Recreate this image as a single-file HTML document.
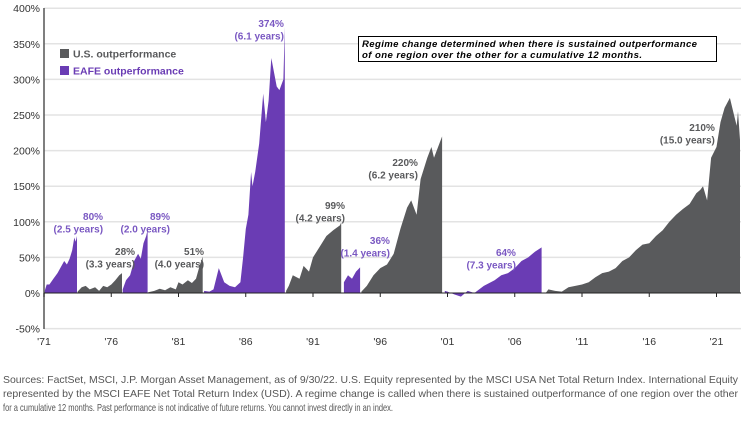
<!DOCTYPE html>
<html><head><meta charset="utf-8">
<style>
body{margin:0;background:#fff;}
svg{display:block;font-family:"Liberation Sans",sans-serif;}
</style></head>
<body>
<svg id="chart" width="751" height="424" viewBox="0 0 751 424">
<g id="grid"></g>
<g id="areas"></g>
<g id="axes"></g>
<g id="labels"></g>
<g>
  <rect x="60" y="49" width="9" height="9" fill="#595a5c"/>
  <text x="73" y="57.5" font-size="10.5" font-weight="bold" fill="#595a5c">U.S. outperformance</text>
  <rect x="60" y="66" width="9" height="9" fill="#6a3cb4"/>
  <text x="73" y="74.5" font-size="10.5" font-weight="bold" fill="#6a3cb4">EAFE outperformance</text>
</g>
<g>
  <rect x="358.5" y="36.5" width="358" height="25" fill="#fff" stroke="#000" stroke-width="1"/>
  <text x="362" y="47" font-size="9.6" font-weight="bold" font-style="italic" fill="#000" textLength="335">Regime change determined when there is sustained outperformance</text>
  <text x="362" y="58" font-size="9.6" font-weight="bold" font-style="italic" fill="#000" textLength="280">of one region over the other for a cumulative 12 months.</text>
</g>
<g font-size="10.5" fill="#555">
  <text x="3" y="383" textLength="735" lengthAdjust="spacingAndGlyphs">Sources: FactSet, MSCI, J.P. Morgan Asset Management, as of 9/30/22. U.S. Equity represented by the MSCI USA Net Total Return Index. International Equity</text>
  <text x="3" y="397" textLength="735" lengthAdjust="spacingAndGlyphs">represented by the MSCI EAFE Net Total Return Index (USD). A regime change is called when there is sustained outperformance of one region over the other</text>
  <text x="3" y="411" textLength="390" lengthAdjust="spacingAndGlyphs">for a cumulative 12 months. Past performance is not indicative of future returns. You cannot invest directly in an index.</text>
</g>
</svg>
<script>
const yTicks=[400,350,300,250,200,150,100,50,0,-50];
const xTickYears=[1971,1976,1981,1986,1991,1996,2001,2006,2011,2016,2021];
const segRegion=["eafe","us","eafe","us","eafe","us","eafe","us","eafe","us"];
const segYears=[
[1971.05,1971.2,1971.4,1971.7,1972,1972.3,1972.5,1972.7,1972.9,1973.1,1973.25,1973.35,1973.45],
[1973.5,1973.8,1974.1,1974.4,1974.8,1975.1,1975.4,1975.7,1976,1976.3,1976.6,1976.8],
[1976.85,1977.1,1977.4,1977.7,1978,1978.2,1978.4,1978.6,1978.7],
[1978.75,1979.2,1979.6,1980,1980.4,1980.8,1981,1981.3,1981.7,1982,1982.3,1982.6,1982.8],
[1982.9,1983.3,1983.6,1984,1984.4,1984.8,1985.2,1985.6,1985.8,1986,1986.2,1986.4,1986.5,1986.7,1987,1987.3,1987.5,1987.7,1987.9,1988.1,1988.3,1988.5,1988.8,1988.9],
[1989,1989.2,1989.5,1990,1990.3,1990.7,1991,1991.5,1992,1992.5,1993,1993.1],
[1993.3,1993.6,1993.9,1994.2,1994.5],
[1994.6,1995,1995.5,1996,1996.5,1997,1997.5,1998,1998.3,1998.7,1999,1999.5,1999.8,2000,2000.4,2000.6],
[2000.8,2001,2001.5,2002,2002.5,2003,2003.7,2004.5,2005,2005.5,2006,2006.5,2007,2007.5,2008],
[2008.3,2008.5,2009,2009.5,2010,2010.5,2011,2011.5,2012,2012.5,2013,2013.5,2014,2014.5,2015,2015.5,2016,2016.5,2017,2017.5,2018,2018.5,2019,2019.5,2019.8,2020,2020.3,2020.6,2021,2021.3,2021.6,2022,2022.3,2022.5,2022.6,2022.75]
];
const segValues=[
[3,12,12,20,28,38,45,40,48,60,78,72,80],
[2,8,10,5,8,3,10,8,12,18,25,28],
[5,18,25,45,55,48,70,80,89],
[1,3,6,4,8,5,15,12,18,14,20,40,51],
[3,2,5,35,15,10,8,15,50,90,110,170,150,170,210,280,240,270,330,310,290,285,300,374],
[3,10,25,20,38,30,50,65,80,88,95,99],
[15,25,20,30,36],
[2,10,25,35,40,55,90,120,130,110,160,190,205,190,210,220],
[3,2,-2,-5,3,0,10,18,25,28,35,45,50,58,64],
[0,5,3,2,8,10,12,15,22,28,30,35,45,50,60,68,70,80,88,100,110,118,125,140,145,150,130,190,205,240,260,274,250,235,255,215]
];
const annText=[["374%","(6.1 years)"],["80%","(2.5 years)"],["28%","(3.3 years)"],["89%","(2.0 years)"],["51%","(4.0 years)"],["99%","(4.2 years)"],["36%","(1.4 years)"],["220%","(6.2 years)"],["64%","(7.3 years)"],["210%","(15.0 years)"]];
const annRegion=["eafe","eafe","us","eafe","us","us","eafe","us","eafe","us"];
const annYear=[1988.84,1975.39,1977.77,1980.37,1982.9,1993.38,1996.72,1998.8,2006.09,2020.88];
const annValue=[373.6,102.5,53.4,102.5,53.4,118,68.8,178.4,52,227.5];

const NS="http://www.w3.org/2000/svg";
const X0=44,PX=13.45,Y0=293,PY=35.6/50;
const xs=y=>X0+(y-1971)*PX;
const ys=v=>Y0-v*PY;
const col={us:"#595a5c",eafe:"#6a3cb4"};
const tcol={us:"#595a5c",eafe:"#7a58c2"};
function mk(tag,attrs,parent){const e=document.createElementNS(NS,tag);for(const k in attrs)e.setAttribute(k,attrs[k]);parent.appendChild(e);return e;}
const grid=document.getElementById('grid'),axes=document.getElementById('axes'),areas=document.getElementById('areas'),labels=document.getElementById('labels');
yTicks.forEach(v=>{
  if(v!==0){const l=mk('line',{x1:X0,x2:741,y1:ys(v),y2:ys(v),stroke:"#e3e3e3","stroke-width":1.5},grid);
  
  }
  const t=mk('text',{x:40,y:ys(v)+4,"text-anchor":"end","font-size":10.5,fill:"#333"},axes);
  t.textContent=v+"%";
  
  
});
annText.forEach((a,i)=>{
  const x=xs(annYear[i]),y=ys(annValue[i]);
  const t1=mk('text',{x:x,y:y,"text-anchor":"end","font-size":10,"font-weight":"bold",fill:tcol[annRegion[i]]},labels);
  t1.textContent=a[0];
  
  
  const t2=mk('text',{x:x,y:y+12.5,"text-anchor":"end","font-size":10,"font-weight":"bold",fill:tcol[annRegion[i]]},labels);
  t2.textContent=a[1];
  
  
});
segYears.forEach((yrs,i)=>{
  let d="M"+xs(yrs[0])+","+Y0;
  yrs.forEach((y,j)=>{d+=" L"+xs(y).toFixed(1)+","+ys(segValues[i][j]).toFixed(1);});
  d+=" L"+xs(yrs[yrs.length-1]).toFixed(1)+","+Y0+"Z";
  const p=mk('path',{d:d,fill:col[segRegion[i]]},areas);
  
  
});
const ya=mk('line',{x1:X0,x2:X0,y1:8,y2:329,stroke:"#555","stroke-width":1.5},axes);


const xa=mk('line',{x1:X0,x2:741,y1:Y0,y2:Y0,stroke:"#222","stroke-width":1},axes);


xTickYears.forEach(y=>{
  const tk=mk('line',{x1:xs(y),x2:xs(y),y1:Y0,y2:Y0+4,stroke:"#222"},axes);
  
  
  const t=mk('text',{x:xs(y),y:345,"text-anchor":"middle","font-size":10.5,fill:"#333"},axes);
  t.textContent="'"+String(y).slice(2);
  
  
});
</script>
</body></html>
